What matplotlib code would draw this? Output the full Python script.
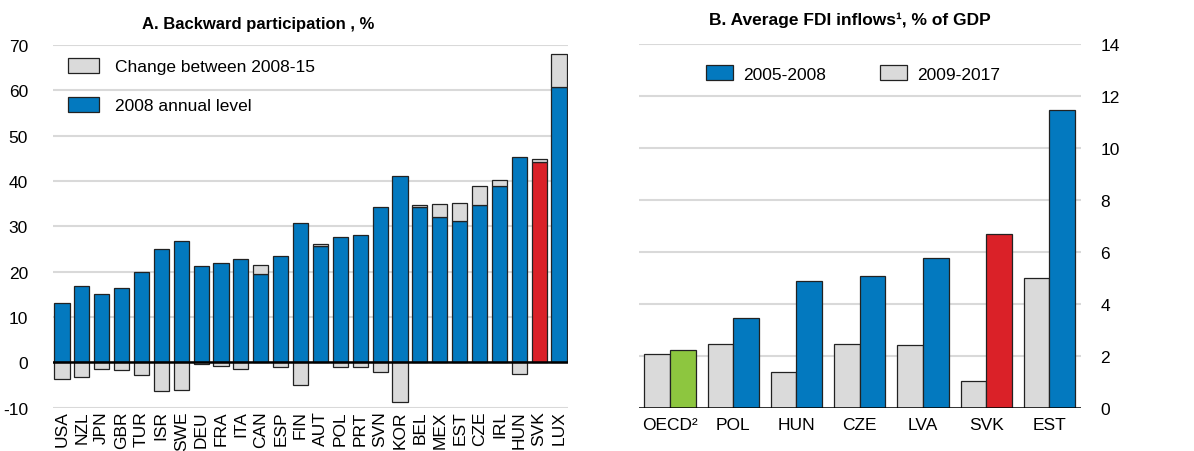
import matplotlib.pyplot as plt
from matplotlib.patches import Patch

plt.rcParams['font.family'] = ['Liberation Sans Narrow', 'Liberation Sans', 'DejaVu Sans']
plt.rcParams['axes.unicode_minus'] = False

# Panel A: backward participation, %
countries_a = ['USA', 'NZL', 'JPN', 'GBR', 'TUR', 'ISR', 'SWE', 'DEU', 'FRA', 'ITA',
               'CAN', 'ESP', 'FIN', 'AUT', 'POL', 'PRT', 'SVN', 'KOR', 'BEL', 'MEX',
               'EST', 'CZE', 'IRL', 'HUN', 'SVK', 'LUX']
level_2008 = [13.1, 16.9, 15.1, 16.5, 19.9, 25.0, 26.7, 21.3, 21.9, 22.8,
              19.6, 23.5, 30.7, 25.6, 27.7, 28.0, 34.3, 41.2, 34.2, 32.0,
              31.1, 34.8, 39.0, 45.4, 44.3, 60.8]
change_08_15 = [-3.7, -3.3, -1.5, -1.6, -2.8, -6.4, -6.1, -0.4, -0.9, -1.5,
                1.9, -1.1, -5.0, 0.5, -1.1, -1.1, -2.2, -8.8, 0.4, 2.9,
                4.0, 4.2, 1.2, -2.6, 0.5, 7.2]

# Panel B: average FDI inflows, % of GDP
countries_b = ['OECD²', 'POL', 'HUN', 'CZE', 'LVA', 'SVK', 'EST']
fdi_2005_08 = [2.23, 3.46, 4.90, 5.09, 5.77, 6.69, 11.45]
fdi_2009_17 = [2.08, 2.47, 1.38, 2.47, 2.45, 1.05, 5.00]

BLUE = '#0379BF'
RED = '#DA2128'
GREEN = '#8DC63F'
GREY = '#DADADA'
EDGE = '#222222'
GRID = '#D9D9D9'

W, H = 1194, 452
fig = plt.figure(figsize=(W / 100, H / 100), dpi=100)

# ---- panel A
axA = fig.add_axes([53 / W, (H - 408.7) / H, 515 / W, 362.7 / H])
xa = range(len(countries_a))
cols = [RED if c == 'SVK' else BLUE for c in countries_a]
axA.bar(xa, level_2008, width=0.76, color=cols, edgecolor=EDGE, linewidth=0.9, zorder=3)
bottoms = [lv if ch > 0 else 0 for lv, ch in zip(level_2008, change_08_15)]
axA.bar(xa, change_08_15, bottom=bottoms, width=0.76, color=GREY, edgecolor=EDGE,
        linewidth=0.9, zorder=3)
axA.set_ylim(-10, 70)
axA.set_xlim(-0.45, len(countries_a) - 0.55)
axA.set_yticks(range(-10, 71, 10))
axA.yaxis.grid(True, color=GRID, linewidth=1.5, zorder=0)
axA.axhline(0, color='black', linewidth=1.8, zorder=4)
axA.set_xticks(list(xa))
axA.set_xticklabels(countries_a, rotation=90, fontsize=12.5)
axA.tick_params(axis='both', length=0, labelsize=12.5)
axA.tick_params(axis='y', pad=18)
axA.tick_params(axis='x', pad=2)
for s in axA.spines.values():
    s.set_visible(False)
axA.legend(handles=[Patch(facecolor=GREY, edgecolor=EDGE, linewidth=0.9),
                    Patch(facecolor=BLUE, edgecolor=EDGE, linewidth=0.9)],
           labels=['Change between 2008-15', '2008 annual level'],
           loc='upper left', bbox_to_anchor=(0.029, 0.965), frameon=False,
           fontsize=12.5, borderpad=0, borderaxespad=0, handlelength=1.8,
           handleheight=0.95, handletextpad=0.9, labelspacing=1.3)
fig.text(258 / W, 1 - 25 / H, 'A. Backward participation , %', ha='center', va='center',
         fontsize=12, fontweight='bold')

# ---- panel B
axB = fig.add_axes([639 / W, (H - 409.3) / H, 442 / W, 364.3 / H])
xb = range(len(countries_b))
bw = 0.405
cols_b = [GREEN if c.startswith('OECD') else RED if c == 'SVK' else BLUE for c in countries_b]
axB.bar([i - bw / 2 for i in xb], fdi_2009_17, width=bw, color=GREY, edgecolor=EDGE,
        linewidth=0.9, zorder=3)
axB.bar([i + bw / 2 for i in xb], fdi_2005_08, width=bw, color=cols_b, edgecolor=EDGE,
        linewidth=0.9, zorder=3)
axB.set_ylim(0, 14)
axB.set_xlim(-0.49, 6.5)
axB.set_yticks(range(0, 15, 2))
axB.yaxis.tick_right()
axB.yaxis.grid(True, color=GRID, linewidth=1.5, zorder=0)
axB.axhline(0, color='black', linewidth=1.8, zorder=4)
axB.set_xticks(list(xb))
axB.set_xticklabels(countries_b)
axB.tick_params(axis='both', length=0, labelsize=12.5)
axB.tick_params(axis='y', pad=14)
axB.tick_params(axis='x', pad=6)
for s in axB.spines.values():
    s.set_visible(False)
axB.legend(handles=[Patch(facecolor=BLUE, edgecolor=EDGE, linewidth=0.9),
                    Patch(facecolor=GREY, edgecolor=EDGE, linewidth=0.9)],
           labels=['2005-2008', '2009-2017'], ncol=2,
           loc='upper left', bbox_to_anchor=(0.152, 0.942), frameon=False,
           fontsize=12.5, borderpad=0, borderaxespad=0, handlelength=1.55,
           handleheight=0.95, handletextpad=0.6, columnspacing=3.1)
fig.text(850 / W, 1 - 20 / H, 'B. Average FDI inflows¹, % of GDP', ha='center', va='center',
         fontsize=12.5, fontweight='bold')

fig.savefig('out.png', dpi=100)
